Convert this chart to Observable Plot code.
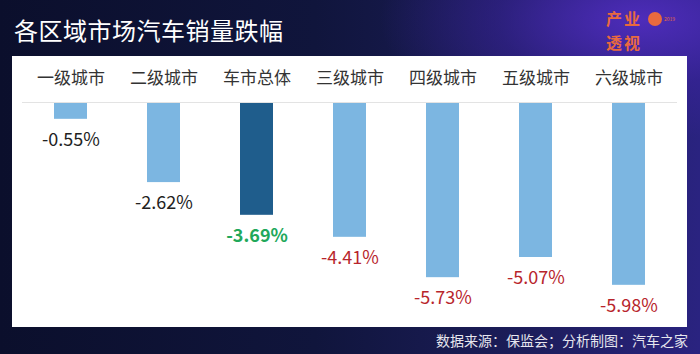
<!DOCTYPE html>
<html><head><meta charset="utf-8">
<script src="https://cdn.jsdelivr.net/npm/d3@7"></script>
<script src="https://cdn.jsdelivr.net/npm/@observablehq/plot@0.6"></script>
<style>
html,body{margin:0;padding:0;}
body{width:700px;height:354px;overflow:hidden;position:relative;font-family:"Noto Sans CJK SC","Noto Sans",sans-serif;
background:
 radial-gradient(ellipse 260px 120px at 640px 20px, rgba(80,45,190,0.95), rgba(60,35,160,0.5) 55%, rgba(20,20,70,0) 100%),
 linear-gradient(to right, #0b0f2c 0%, #10153c 45%, #1c1d5a 75%, #2a2380 100%);}
#title{position:absolute;left:14px;top:14px;color:#fff;font-size:24px;line-height:32px;letter-spacing:0.5px;}
#logo{position:absolute;left:604px;top:6px;width:90px;height:48px;}
#logo .t{position:absolute;left:2px;top:0;color:#e96a3e;font-size:16px;font-weight:bold;line-height:24px;letter-spacing:2px;}
#logo .c{position:absolute;left:44px;top:6px;width:14px;height:14px;border-radius:50%;background:#e96a3e;}
#logo .s{position:absolute;left:60px;top:10px;color:#e96a3e;font-size:5px;line-height:6px;}
#panel{position:absolute;left:12px;top:56px;width:675px;height:271px;background:#fff;}
#source{position:absolute;right:12px;top:330px;color:#e6e6ee;font-size:14px;line-height:20px;}
</style></head>
<body>
<div id="title">各区域市场汽车销量跌幅</div>
<div id="logo"><div class="t">产业<br>透视</div><div class="c"></div><div class="s">2019</div></div>
<div id="panel"></div>
<div id="source">数据来源：保监会；分析制图：汽车之家</div>
<script>
const categories = ["一级城市","二级城市","车市总体","三级城市","四级城市","五级城市","六级城市"];
const values = [-0.55, -2.62, -3.69, -4.41, -5.73, -5.07, -5.98];
const labels = ["-0.55%","-2.62%","-3.69%","-4.41%","-5.73%","-5.07%","-5.98%"];
const barColors = ["#7cb6e1","#7cb6e1","#1f5d8c","#7cb6e1","#7cb6e1","#7cb6e1","#7cb6e1"];
const labelColors = ["#222222","#222222","#21a85a","#b8252c","#b8252c","#b8252c","#b8252c"];
const labelWeights = ["normal","normal","bold","normal","normal","normal","normal"];

const data = categories.map((c,i)=>({cat:c, v:values[i], label:labels[i], bc:barColors[i], lc:labelColors[i], fw:labelWeights[i]}));

const chart = Plot.plot({
  width: 675, height: 271,
  marginTop: 46, marginBottom: 11, marginLeft: 10, marginRight: 10,
  style: {fontFamily: '"Noto Sans CJK SC","Noto Sans",sans-serif', background: "transparent"},
  x: {domain: categories, paddingInner: 0.647, paddingOuter: 0.3235, align: 0.5},
  y: {domain: [-7, 0], axis: null},
  marks: [
    Plot.barY(data, {x: "cat", y: "v", fill: d => d.bc}),
    Plot.ruleY([0], {stroke: "#e3e3e3", strokeWidth: 1}),
    Plot.axisX({anchor: "top", tickSize: 0, tickPadding: 19, fontSize: 17, color: "#333", label: null}),
    ...["normal","bold"].map(w => Plot.text(data.filter(d => d.fw === w), {x: "cat", y: "v", text: "label", dy: 21, fontSize: 18, fill: d => d.lc, fontWeight: w}))
  ]
});
document.getElementById("panel").appendChild(chart);
</script>
</body></html>
